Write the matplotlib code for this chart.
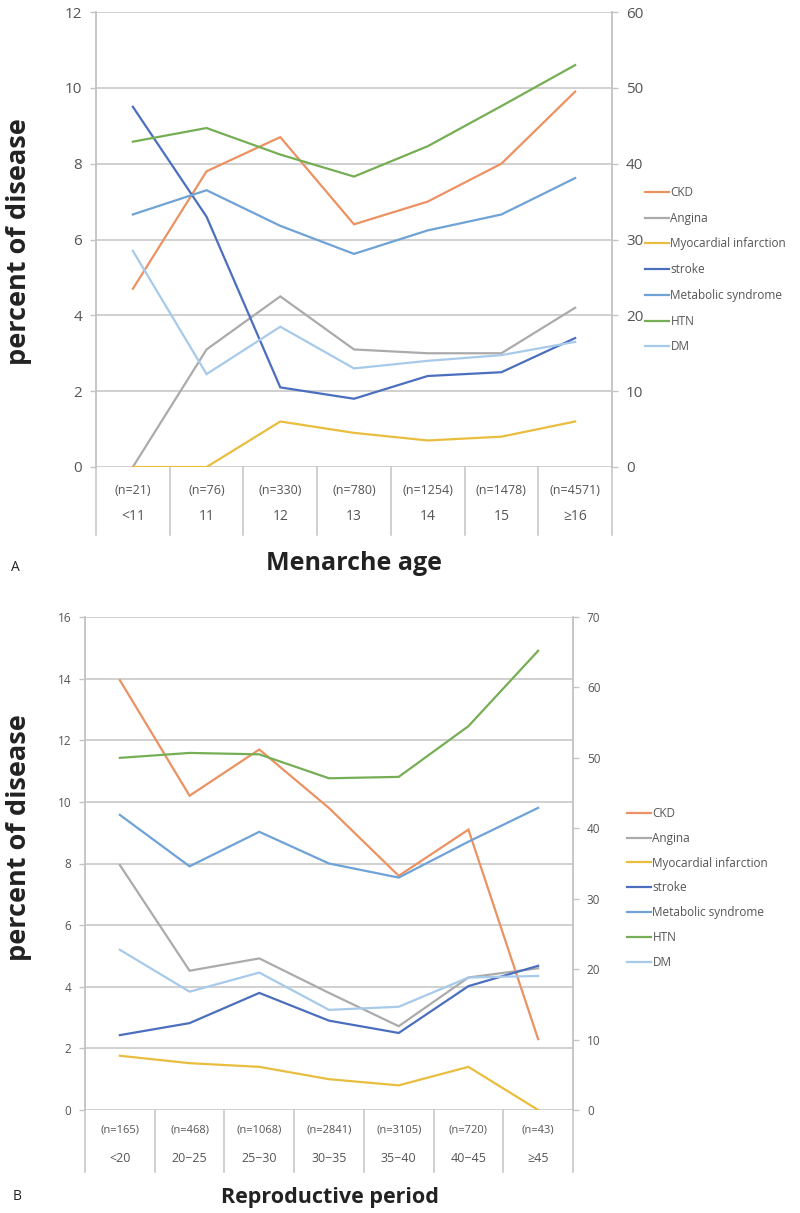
import matplotlib
matplotlib.use("Agg")
import matplotlib.pyplot as plt

plt.rcParams['font.family'] = ['Open Sans', 'DejaVu Sans']

# ---------------- data ----------------
series_names = ["CKD", "Angina", "Myocardial infarction", "stroke",
                "Metabolic syndrome", "HTN", "DM"]

# Panel A: menarche age
a_cats = ["<11", "11", "12", "13", "14", "15", "\u226516"]
a_ns = ["(n=21)", "(n=76)", "(n=330)", "(n=780)", "(n=1254)", "(n=1478)", "(n=4571)"]
a_ckd = [4.7, 7.8, 8.7, 6.4, 7.0, 8.0, 9.9]
a_angina = [0.0, 3.1, 4.5, 3.1, 3.0, 3.0, 4.2]
a_mi = [0.0, 0.0, 1.2, 0.9, 0.7, 0.8, 1.2]
a_stroke = [9.5, 6.6, 2.1, 1.8, 2.4, 2.5, 3.4]
a_dm = [5.7, 2.45, 3.7, 2.6, 2.8, 2.95, 3.3]
# right axis (%)
a_mets = [33.3, 36.5, 31.8, 28.1, 31.2, 33.3, 38.1]
a_htn = [42.9, 44.7, 41.2, 38.3, 42.3, 47.6, 53.0]

# Panel B: reproductive period
b_cats = ["<20", "20\u221225", "25\u221230", "30\u221235", "35\u221240", "40\u221245", "\u226545"]
b_ns = ["(n=165)", "(n=468)", "(n=1068)", "(n=2841)", "(n=3105)", "(n=720)", "(n=43)"]
b_ckd = [13.95, 10.2, 11.7, 9.8, 7.6, 9.1, 2.3]
b_angina = [7.95, 4.52, 4.92, 3.8, 2.72, 4.3, 4.6]
b_mi = [1.76, 1.52, 1.4, 1.0, 0.8, 1.4, 0.0]
b_stroke = [2.43, 2.82, 3.8, 2.9, 2.5, 4.02, 4.68]
b_dm = [5.2, 3.84, 4.46, 3.25, 3.35, 4.3, 4.35]
# right axis (%)
b_mets = [41.9, 34.6, 39.5, 35.0, 33.0, 38.1, 42.9]
b_htn = [50.0, 50.7, 50.5, 47.1, 47.3, 54.5, 65.2]

colors = {
    "CKD": "#EC9262",
    "Angina": "#ABABAB",
    "Myocardial infarction": "#E9BD3E",
    "stroke": "#4B6FBE",
    "Metabolic syndrome": "#6FA2D6",
    "HTN": "#76AE55",
    "DM": "#A8CAEA",
}

GRID = "#C4C4C4"
TXT = "#555555"
W, H = 800, 1213

fig = plt.figure(figsize=(8.0, 12.13), dpi=100)


def panel(rect, cats, ns, left_series, right_series, lmax, lstep, rmax, rstep,
          tick_fs, cat_fs, row1, row2, rowend):
    l, t, r, b = rect
    ax = fig.add_axes([l / W, 1 - b / H, (r - l) / W, (b - t) / H])
    ax2 = ax.twinx()
    x = list(range(len(cats)))
    handles = {}
    for name, vals in left_series:
        ln, = ax.plot(x, vals, color=colors[name], lw=1.6, solid_joinstyle='miter')
        handles[name] = ln
    for name, vals in right_series:
        ln, = ax2.plot(x, vals, color=colors[name], lw=1.6, solid_joinstyle='miter')
        handles[name] = ln
    ax.set_xlim(-0.5, len(cats) - 0.5)
    ax.set_ylim(0, lmax)
    ax2.set_ylim(0, rmax)
    ax.set_yticks(range(0, lmax + 1, lstep))
    ax2.set_yticks(range(0, rmax + 1, rstep))
    ax.grid(axis='y', color=GRID, lw=1.1)
    ax.set_axisbelow(True)
    ax.set_xticks([])
    for a in (ax, ax2):
        for s in ('top', 'bottom'):
            a.spines[s].set_visible(False)
        a.spines['left'].set_color(GRID)
        a.spines['right'].set_color(GRID)
        a.spines['left'].set_linewidth(1.1)
        a.spines['right'].set_linewidth(1.1)
    ax.tick_params(axis='y', colors=GRID, labelcolor=TXT, labelsize=tick_fs,
                   length=4, width=1.0, pad=6)
    ax2.tick_params(axis='y', colors=GRID, labelcolor=TXT, labelsize=tick_fs,
                    length=4, width=1.0, pad=6)
    # category table below axis
    tr = ax.get_xaxis_transform()
    h = b - t
    for i in range(len(cats) + 1):
        ax.plot([i - 0.5, i - 0.5], [0, -(rowend - b) / h], transform=tr,
                color=GRID, lw=1.1, clip_on=False)
    for i, (c, n) in enumerate(zip(cats, ns)):
        ax.text(i, -(row1 - b) / h, n, transform=tr, ha='center', va='center',
                fontsize=cat_fs, color=TXT)
        ax.text(i, -(row2 - b) / h, c, transform=tr, ha='center', va='center',
                fontsize=cat_fs + 1, color=TXT)
    return ax, ax2, handles


# ---------- Panel A ----------
axA, axA2, hA = panel((96, 12, 612, 467), a_cats, a_ns,
                      [("CKD", a_ckd), ("Angina", a_angina),
                       ("Myocardial infarction", a_mi), ("stroke", a_stroke),
                       ("DM", a_dm)],
                      [("Metabolic syndrome", a_mets), ("HTN", a_htn)],
                      12, 2, 60, 10, 11, 9, 491, 517, 535)
fig.legend([hA[n] for n in series_names], series_names, loc='upper left',
           bbox_to_anchor=(645 / W, 1 - 186 / H), frameon=False, fontsize=8.5,
           handlelength=2.0, handletextpad=0.15, labelspacing=1.08,
           borderpad=0, borderaxespad=0, labelcolor=TXT)
fig.text(354 / W, 1 - 563 / H, "Menarche age", ha='center', va='center',
         fontsize=18, fontweight='bold', color='#222222')
fig.text(19 / W, 1 - 242 / H, "percent of disease", ha='center', va='center',
         rotation=90, fontsize=19.5, fontweight='bold', color='#222222')
fig.text(15 / W, 1 - 567 / H, "A", ha='center', va='center', fontsize=10,
         color='#222222')

# ---------- Panel B ----------
axB, axB2, hB = panel((85, 617, 573, 1110), b_cats, b_ns,
                      [("CKD", b_ckd), ("Angina", b_angina),
                       ("Myocardial infarction", b_mi), ("stroke", b_stroke),
                       ("DM", b_dm)],
                      [("Metabolic syndrome", b_mets), ("HTN", b_htn)],
                      16, 2, 70, 10, 8.5, 8, 1130, 1158, 1172)
fig.legend([hB[n] for n in series_names], series_names, loc='upper left',
           bbox_to_anchor=(627 / W, 1 - 807 / H), frameon=False, fontsize=8.5,
           handlelength=2.0, handletextpad=0.15, labelspacing=1.0,
           borderpad=0, borderaxespad=0, labelcolor=TXT)
fig.text(330 / W, 1 - 1197 / H, "Reproductive period", ha='center', va='center',
         fontsize=15.5, fontweight='bold', color='#222222')
fig.text(19 / W, 1 - 838 / H, "percent of disease", ha='center', va='center',
         rotation=90, fontsize=19.5, fontweight='bold', color='#222222')
fig.text(17 / W, 1 - 1197 / H, "B", ha='center', va='center', fontsize=10,
         color='#222222')

fig.savefig("out.png", dpi=100, facecolor='white')
